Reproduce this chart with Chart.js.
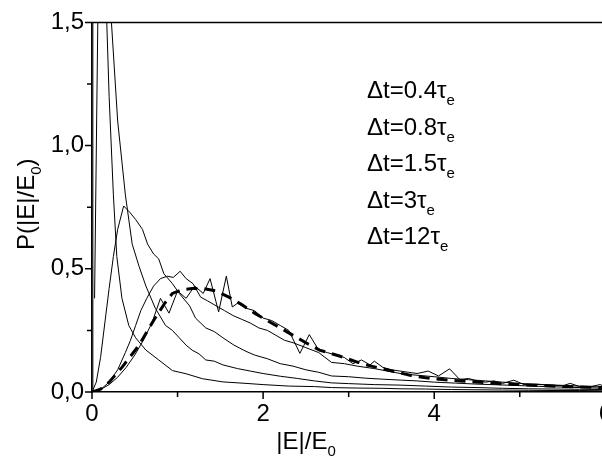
<!DOCTYPE html>
<html><head><meta charset="utf-8">
<script src="https://cdn.jsdelivr.net/npm/chart.js@4.4.1/dist/chart.umd.min.js"></script>
<style>html,body{margin:0;padding:0;background:#fff;overflow:hidden}#wrap{width:620px;height:468px}</style>
</head><body><div id="wrap"><canvas id="c" width="620" height="468"></canvas></div>
<script>
// ---- data ----
const seriesNames = ['Δt=0.4τ','Δt=0.8τ','Δt=1.5τ','Δt=3τ','Δt=12τ'];
const seriesSub = 'e';

const xA = [0,0.01,0.1,0.15,0.2,0.25,0.29,0.35,0.43,0.51,0.63,0.78,0.94,1.1,1.29,1.53,1.8,2.0,2.3,2.6,2.8,3.1,3.4,3.6,3.9,4.2,4.5,4.8,5.1,5.4,5.7,6.0];
const yA = [0,2.9,2.4,1.75,1.2,0.80,0.55,0.38,0.27,0.22,0.17,0.13,0.087,0.074,0.054,0.041,0.035,0.03,0.024,0.022,0.018,0.016,0.015,0.013,0.012,0.01,0.009,0.008,0.007,0.006,0.006,0.005];

const xB = [0.03,0.1,0.2,0.3,0.39,0.47,0.55,0.63,0.74,0.86,0.94,1.02,1.1,1.17,1.25,1.33,1.43,1.53,1.7,1.85,2.0,2.2,2.4,2.6,2.8,3.0,3.3,3.6,3.9,4.2,4.5,4.8,5.1,5.4,5.7,6.0];
const yB = [0.38,2.45,1.65,1.1,0.80,0.60,0.51,0.43,0.34,0.27,0.25,0.22,0.19,0.17,0.155,0.13,0.125,0.11,0.095,0.085,0.075,0.064,0.055,0.045,0.037,0.034,0.03,0.028,0.024,0.02,0.018,0.015,0.013,0.012,0.011,0.01];

const xC = [0,0.05,0.1,0.15,0.2,0.25,0.3,0.37,0.44,0.51,0.59,0.65,0.72,0.78,0.84,0.94,1.02,1.14,1.21,1.33,1.43,1.53,1.66,1.8,1.9,2.05,2.2,2.35,2.5,2.65,2.8,3.0,3.2,3.4,3.62,3.8,4.0,4.25,4.5,4.75,5.0,5.3,5.6,6.0];
const yC = [0,0.04,0.14,0.28,0.42,0.55,0.66,0.755,0.73,0.70,0.66,0.60,0.56,0.54,0.48,0.44,0.40,0.35,0.30,0.26,0.245,0.22,0.19,0.165,0.15,0.135,0.115,0.105,0.09,0.08,0.065,0.062,0.056,0.052,0.048,0.045,0.04,0.036,0.032,0.029,0.026,0.022,0.019,0.015];

const xD = [0,0.1,0.2,0.3,0.39,0.45,0.51,0.57,0.64,0.72,0.8,0.88,0.95,1.03,1.1,1.18,1.27,1.35,1.45,1.55,1.65,1.75,1.85,1.95,2.05,2.15,2.25,2.35,2.5,2.65,2.8,2.95,3.1,3.3,3.45,3.62,3.8,4.0,4.2,4.4,4.6,4.8,5.0,5.25,5.5,5.75,6.0];
const yD = [0,0.01,0.04,0.09,0.16,0.21,0.27,0.33,0.38,0.43,0.46,0.47,0.465,0.49,0.46,0.44,0.385,0.37,0.35,0.33,0.31,0.295,0.28,0.26,0.25,0.23,0.21,0.2,0.18,0.16,0.12,0.115,0.105,0.095,0.085,0.074,0.068,0.062,0.055,0.05,0.045,0.04,0.035,0.03,0.027,0.023,0.02];

const xE = [0,0.1,0.2,0.3,0.4,0.5,0.6,0.7,0.8,0.9,1.0,1.1,1.2,1.3,1.38,1.48,1.57,1.64,1.7,1.8,1.9,2.0,2.1,2.2,2.3,2.43,2.54,2.65,2.75,2.85,2.95,3.05,3.15,3.25,3.3,3.4,3.5,3.6,3.7,3.8,3.93,4.05,4.18,4.3,4.4,4.5,4.6,4.7,4.8,4.93,5.05,5.2,5.35,5.5,5.59,5.7,5.8,5.94,6.0];
const yE = [0,0.01,0.03,0.06,0.10,0.15,0.21,0.28,0.38,0.32,0.41,0.38,0.43,0.40,0.46,0.325,0.47,0.345,0.36,0.34,0.33,0.30,0.29,0.27,0.25,0.157,0.233,0.17,0.16,0.15,0.14,0.115,0.13,0.11,0.125,0.10,0.09,0.085,0.08,0.075,0.085,0.065,0.094,0.05,0.055,0.045,0.04,0.045,0.035,0.048,0.03,0.032,0.028,0.025,0.035,0.022,0.02,0.03,0.02];

const xT = [0,0.1,0.2,0.35,0.45,0.55,0.65,0.72,0.85,0.94,1.05,1.17,1.3,1.45,1.6,1.75,1.9,2.0,2.15,2.3,2.5,2.66,2.9,3.17,3.47,3.73,3.97,4.3,4.63,4.98,5.5,6.0];
const yT = [0,0.012,0.04,0.10,0.145,0.19,0.25,0.29,0.36,0.40,0.415,0.42,0.42,0.41,0.385,0.355,0.32,0.30,0.27,0.24,0.20,0.17,0.145,0.113,0.088,0.067,0.054,0.045,0.037,0.03,0.022,0.018];

const yTickLabels = {0:'0,0', 0.5:'0,5', 1:'1,0', 1.5:'1,5'};
const xTickLabels = {0:'0', 2:'2', 4:'4', 6:'6'};
const xTitle = [['|E|/E',false],['0',true]];
const yTitle = [['P(|E|/E',false],['0',true],[')',false]];

// ---- drawing ----
const FONT = '"Liberation Sans", Arial, sans-serif';
const FS = 24, SUBFS = 15;
function pts(xs, ys){ return xs.map((x,i)=>({x:x, y:ys[i]})); }
function line(label, xs, ys, extra){
  return Object.assign({label:label, data:pts(xs,ys), borderColor:'#000', borderWidth:1,
    pointRadius:0, tension:0, fill:false}, extra||{});
}
const datasets = [
  line(seriesNames[0], xA, yA),
  line(seriesNames[1], xB, yB),
  line(seriesNames[2], xC, yC),
  line(seriesNames[3], xD, yD),
  line(seriesNames[4], xE, yE),
  line('theory', xT, yT, {borderWidth:3, borderDash:[11,7]})
];

function richWidth(ctx, parts){
  let w = 0;
  for (const [t,sub] of parts){ ctx.font = (sub?SUBFS:FS)+'px '+FONT; w += ctx.measureText(t).width; }
  return w;
}
function drawRich(ctx, parts, x, y){
  let cx = x;
  ctx.textBaseline = 'alphabetic'; ctx.textAlign = 'left';
  for (const [t,sub] of parts){
    ctx.font = (sub?SUBFS:FS)+'px '+FONT;
    ctx.fillText(t, cx, sub ? y+7 : y);
    cx += ctx.measureText(t).width;
  }
}

const decor = {
  id:'decor',
  afterDraw(chart){
    const ctx = chart.ctx, a = chart.chartArea;
    const xs = chart.scales.x, ys = chart.scales.y;
    ctx.save();
    ctx.strokeStyle = '#000'; ctx.fillStyle = '#000'; ctx.lineWidth = 1.5;
    // frame top/right
    ctx.beginPath();
    ctx.moveTo(a.left, a.top); ctx.lineTo(a.right, a.top); ctx.lineTo(a.right, a.bottom);
    ctx.stroke();
    // ticks
    ctx.beginPath();
    for (const t of ys.ticks){
      const p = ys.getPixelForValue(t.value);
      const len = (yTickLabels[t.value] !== undefined) ? 7 : 5;
      ctx.moveTo(a.left, p); ctx.lineTo(a.left - len, p);
    }
    for (const t of xs.ticks){
      const p = xs.getPixelForValue(t.value);
      const len = (xTickLabels[t.value] !== undefined) ? 7 : 5;
      ctx.moveTo(p, a.bottom); ctx.lineTo(p, a.bottom + len);
    }
    ctx.stroke();
    // axis titles
    const xw = richWidth(ctx, xTitle);
    drawRich(ctx, xTitle, 306 - xw/2, 449);
    ctx.save();
    ctx.translate(34, (a.top + a.bottom)/2 - 3);
    ctx.rotate(-Math.PI/2);
    const yw = richWidth(ctx, yTitle);
    drawRich(ctx, yTitle, -yw/2, 0);
    ctx.restore();
    // series labels
    const names = chart.data.datasets.slice(0,5).map(d=>d.label);
    names.forEach((n,i)=>{
      drawRich(ctx, [[n,false],[seriesSub,true]], 367, 98 + i*36.5);
    });
    ctx.restore();
  }
};

new Chart(document.getElementById('c'), {
  type:'line',
  data:{datasets:datasets},
  options:{
    responsive:false, animation:false,
    layout:{padding:{top:14, right:8, left:0, bottom:0}},
    plugins:{legend:{display:false}, tooltip:{enabled:false}},
    scales:{
      x:{type:'linear', min:0, max:6,
        afterFit(s){ s.height = 76; },
        ticks:{stepSize:1, autoSkip:false, maxRotation:0, padding:8, color:'#000',
          font:{family:FONT, size:FS}, callback:(v)=> (xTickLabels[v] !== undefined ? xTickLabels[v] : '')},
        grid:{display:false, drawTicks:false},
        border:{display:true, color:'#000', width:1.5}},
      y:{type:'linear', min:0, max:1.5,
        afterFit(s){ s.width = 92; },
        ticks:{stepSize:0.25, autoSkip:false, padding:8, color:'#000',
          font:{family:FONT, size:FS}, callback:(v)=> (yTickLabels[v] !== undefined ? yTickLabels[v] : '')},
        grid:{display:false, drawTicks:false},
        border:{display:true, color:'#000', width:1.5}}
    }
  },
  plugins:[decor]
});
</script></body></html>
